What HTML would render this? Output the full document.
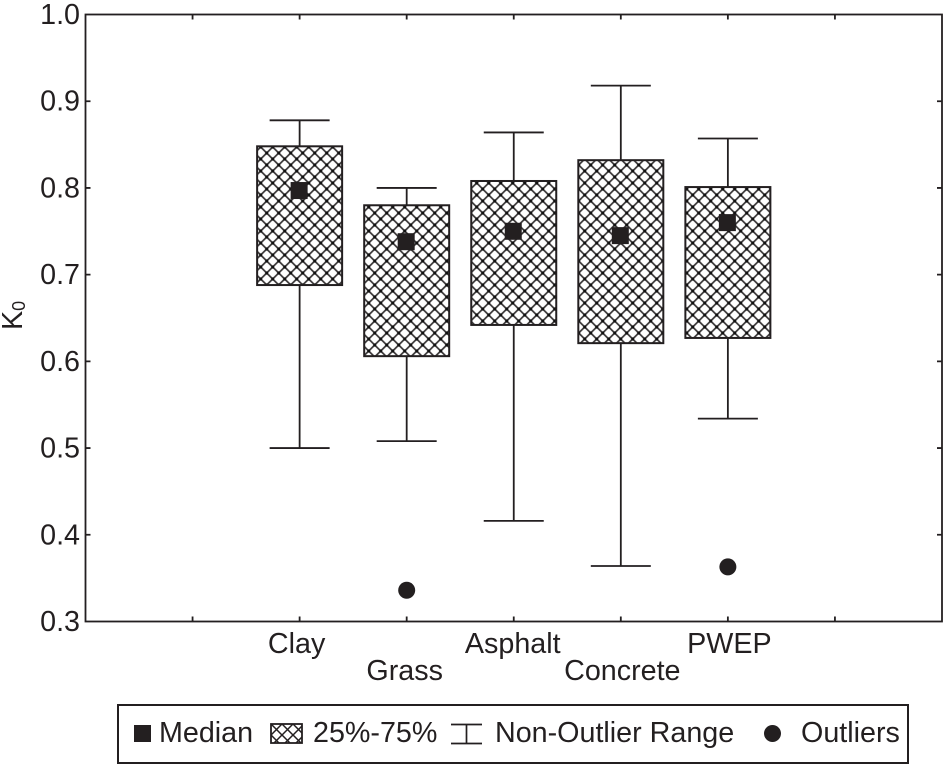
<!DOCTYPE html>
<html>
<head>
<meta charset="utf-8">
<style>
html,body{margin:0;padding:0;background:#fff;}
svg{display:block;}
text{font-family:"Liberation Sans",sans-serif;fill:#231f20;}
</style>
</head>
<body>
<svg id="chart" xmlns="http://www.w3.org/2000/svg" width="944" height="765" viewBox="0 0 944 765">
<defs>
<pattern id="hatch" patternUnits="userSpaceOnUse" width="12" height="12" x="266.7" y="153">
<path d="M0 0L12 12M12 0L0 12" stroke="#3a3738" stroke-width="1.7" fill="none"/>
<g fill="#111">
<circle cx="6" cy="6" r="1.6"/>
<circle cx="0" cy="0" r="1.6"/>
<circle cx="12" cy="0" r="1.6"/>
<circle cx="0" cy="12" r="1.6"/>
<circle cx="12" cy="12" r="1.6"/>
</g>
</pattern>
<pattern id="hatch-legend" patternUnits="userSpaceOnUse" width="11" height="11" x="271" y="724">
<path d="M0 0L11 11M11 0L0 11" stroke="#231f20" stroke-width="1.5" fill="none"/>
</pattern>
</defs>
<g id="plot"></g>
<g>
<rect x="118" y="705" width="790" height="58" fill="#fff" stroke="#231f20" stroke-width="2"/>
<rect x="134" y="725" width="17" height="17" fill="#231f20"/>
<text x="159" y="742" font-size="28.7">Median</text>
<rect x="271" y="724" width="31" height="19" fill="url(#hatch-legend)" stroke="#231f20" stroke-width="1.8"/>
<text x="313" y="742" font-size="28.7">25%-75%</text>
<path d="M451 724.5H482M451 743.5H482M466.5 724.5V743.5" stroke="#231f20" stroke-width="1.7" fill="none"/>
<text x="495" y="742" font-size="28.7">Non-Outlier Range</text>
<circle cx="772.5" cy="733.5" r="8.5" fill="#231f20"/>
<text x="801" y="742" font-size="28.7">Outliers</text>
</g>
</svg>
<script>
const categories = ['Clay', 'Grass', 'Asphalt', 'Concrete', 'PWEP'];
const categorySlots = [2, 3, 4, 5, 6];
const whiskerHigh = [0.878, 0.800, 0.864, 0.918, 0.857];
const q3Values = [0.848, 0.780, 0.808, 0.832, 0.801];
const medians = [0.797, 0.738, 0.750, 0.745, 0.760];
const q1Values = [0.688, 0.606, 0.642, 0.621, 0.627];
const whiskerLow = [0.500, 0.508, 0.416, 0.364, 0.534];
const outliers = [null, 0.336, null, null, 0.363];
const yTicks = [0.3, 0.4, 0.5, 0.6, 0.7, 0.8, 0.9, 1.0];
const xTickSlots = [1, 2, 3, 4, 5, 6, 7];

const plotLeft = 85.5, plotRight = 942, plotTop = 14.5, plotBottom = 621.5;
const xScale = s => plotLeft + (plotRight - plotLeft) * s / 8;
const yScale = v => plotBottom - (v - 0.3) / 0.7 * (plotBottom - plotTop);
const ns = 'http://www.w3.org/2000/svg';
const plot = document.getElementById('plot');
const INK = '#231f20';
const FONT = 28.7;

function labelOffset(i) {
  if (i === 0) return -3;
  if (i === 1) return -2;
  if (i === 2) return -1;
  return 1.5;
}

function make(tag, attrs, parent) {
  const el = document.createElementNS(ns, tag);
  for (const k in attrs) el.setAttribute(k, attrs[k]);
  (parent || plot).appendChild(el);
  return el;
}

const frame = make('rect', {x: plotLeft, y: plotTop, width: plotRight - plotLeft, height: plotBottom - plotTop, fill: '#fff', stroke: INK, 'stroke-width': 1.8});



yTicks.forEach(v => {
  const y = yScale(v);
  if (v > 0.3 && v < 1.0) {
    const t = make('path', {d: `M${plotLeft} ${y}h5M${plotRight} ${y}h-5`, stroke: INK, 'stroke-width': 1.8, fill: 'none'});
    
    
  }
  const label = make('text', {x: 80, y: y + 9.5, 'font-size': FONT, 'text-anchor': 'end'});
  label.textContent = v.toFixed(1);
  
  
});

xTickSlots.forEach(s => {
  const x = xScale(s);
  const t = make('path', {d: `M${x} ${plotBottom}v-5M${x} ${plotTop}v5`, stroke: INK, 'stroke-width': 1.8, fill: 'none'});
  
  
});

const yTitle = make('text', {transform: 'translate(22 330) rotate(-90)', 'font-size': FONT});


yTitle.textContent = 'K';
const sub = make('tspan', {'font-size': 18, dy: 3}, yTitle);
sub.textContent = '0';

const BOX_W = 85, CAP_W = 60;
categories.forEach((name, i) => {
  const x = xScale(categorySlots[i]);
  const yHi = yScale(whiskerHigh[i]), yLo = yScale(whiskerLow[i]);
  const y3 = yScale(q3Values[i]), y1 = yScale(q1Values[i]), yM = yScale(medians[i]);

  const whisk = make('path', {d: `M${x - CAP_W / 2} ${yHi}H${x + CAP_W / 2}M${x} ${yHi}V${y3}M${x} ${y1}V${yLo}M${x - CAP_W / 2} ${yLo}H${x + CAP_W / 2}`, stroke: INK, 'stroke-width': 1.8, fill: 'none'});
  
  

  const box = make('rect', {x: x - BOX_W / 2, y: y3, width: BOX_W, height: y1 - y3, fill: 'url(#hatch)', stroke: INK, 'stroke-width': 2});
  
  

  const med = make('rect', {x: x - 9, y: yM - 8.5, width: 17, height: 17, fill: INK});
  
  

  if (outliers[i] !== null) {
    const o = make('circle', {cx: x, cy: yScale(outliers[i]), r: 8.5, fill: INK});
    
    
  }

  const label = make('text', {x: x + labelOffset(i), y: i % 2 === 0 ? 653 : 680, 'font-size': FONT, 'text-anchor': 'middle'});
  label.textContent = name;
  
  
});
</script>
</body>
</html>
